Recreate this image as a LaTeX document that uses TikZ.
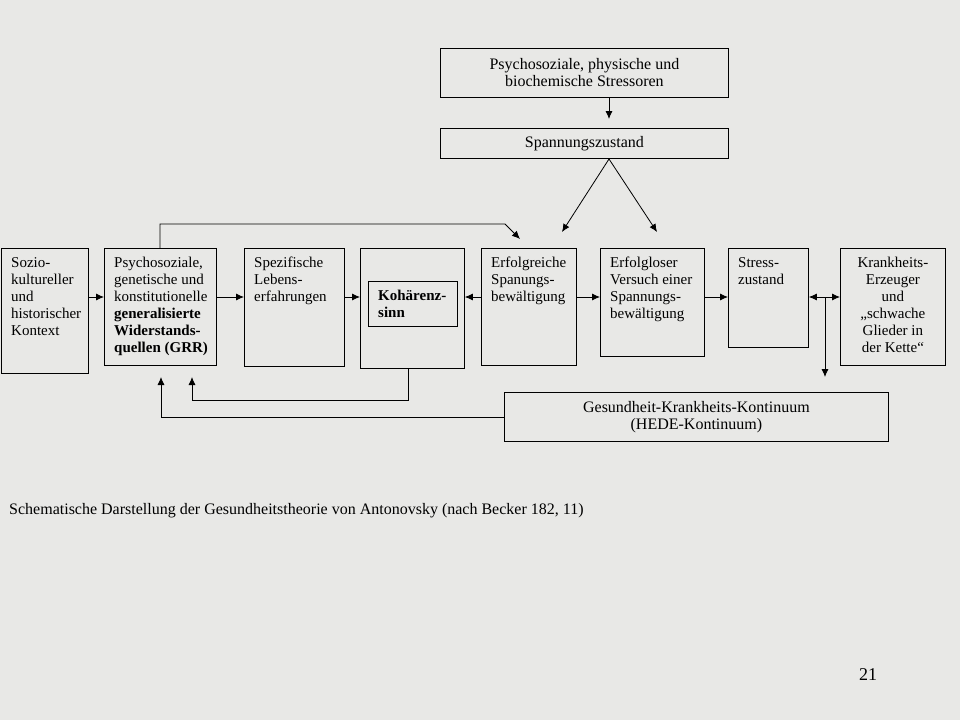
\documentclass[tikz,border=0pt]{standalone}
\usepackage{fontspec}
\setmainfont{Liberation Serif}
\definecolor{slideGray}{RGB}{232, 232, 230}
\usetikzlibrary{arrows.meta, positioning, calc}

\tikzset{
  box/.style={draw, line width=0.8pt, inner sep=0pt, anchor=north west},
  txt/.style={inner sep=0pt, align=left, anchor=north west, font=\fontsize{15}{17}\selectfont},
  ctxt/.style={inner sep=0pt, align=center, font=\fontsize{16}{17}\selectfont},
  arr/.style={line width=0.8pt, -{Latex[length=8pt, width=7pt]}},
  line/.style={line width=0.8pt}
}

\begin{document}
\begin{tikzpicture}[x=1pt, y=-1pt]
    % background
    \fill[slideGray] (0,0) rectangle (960,720);
    \useasboundingbox (0,0) rectangle (960,720);

    % top boxes
    \node[box, minimum width=288pt, minimum height=49pt] (stressoren) at (440,48) {};
    \node[ctxt] at (stressoren.center) {Psychosoziale, physische und\\biochemische Stressoren};
    \node[box, minimum width=288pt, minimum height=30pt] (spannung) at (440,128) {};
    \node[ctxt] at (spannung.center) {Spannungszustand};

    % row of boxes
    \node[box, minimum width=87pt, minimum height=125pt] (sozio) at (1,248) {};
    \node[txt] at ([xshift=10pt, yshift=-9pt]sozio.north west) {Sozio-\\kultureller\\und\\historischer\\Kontext};

    \node[box, minimum width=112pt, minimum height=117pt] (grr) at (104,248) {};
    \node[txt] at ([xshift=10pt, yshift=-9pt]grr.north west) {Psychosoziale,\\genetische und\\konstitutionelle\\\textbf{generalisierte}\\\textbf{Widerstands-}\\\textbf{quellen (GRR)}};

    \node[box, minimum width=100pt, minimum height=118pt] (lebens) at (244,248) {};
    \node[txt] at ([xshift=10pt, yshift=-9pt]lebens.north west) {Spezifische\\Lebens-\\erfahrungen};

    \node[box, minimum width=104pt, minimum height=120pt] (koh) at (360,248) {};
    \node[box, minimum width=89pt, minimum height=45pt] (sinn) at (368,281) {};
    \node[txt] at ([xshift=10pt, yshift=-9pt]sinn.north west) {\textbf{Kohärenz-}\\\textbf{sinn}};

    \node[box, minimum width=95pt, minimum height=117pt] (erfolg) at (481,248) {};
    \node[txt] at ([xshift=10pt, yshift=-9pt]erfolg.north west) {Erfolgreiche\\Spanungs-\\bewältigung};

    \node[box, minimum width=104pt, minimum height=108pt] (versuch) at (600,248) {};
    \node[txt] at ([xshift=10pt, yshift=-9pt]versuch.north west) {Erfolgloser\\Versuch einer\\Spannungs-\\bewältigung};

    \node[box, minimum width=80pt, minimum height=99pt] (stress) at (728,248) {};
    \node[txt] at ([xshift=10pt, yshift=-9pt]stress.north west) {Stress-\\zustand};

    \node[box, minimum width=105pt, minimum height=117pt] (krank) at (840,248) {};
    \node[txt, align=center, anchor=north] at ([yshift=-9pt]krank.north) {Krankheits-\\Erzeuger\\und\\„schwache\\Glieder in\\der Kette“};

    \node[box, minimum width=384pt, minimum height=49pt] (hede) at (504,392) {};
    \node[ctxt] at (hede.center) {Gesundheit-Krankheits-Kontinuum\\(HEDE-Kontinuum)};

    % helper coordinates
    \coordinate (row) at (0,297);
    \coordinate (spitze) at (609,119);
    \coordinate (gipfel) at (609,159);
    \coordinate (links) at (562,232);
    \coordinate (rechts) at (657,232);
    \coordinate (oben) at (160,224);
    \coordinate (obenEnd) at (520,239);
    \coordinate (unten) at (408,400);
    \coordinate (untenEnd) at (192,377);
    \coordinate (hedeEnd) at (161,377);
    \coordinate (gabel) at (825,297);
    \coordinate (gabelEnd) at (825,377);

    % arrows
    \draw[arr] (stressoren.south -| spitze) -- (spitze);
    \draw[arr] (gipfel) -- (links);
    \draw[arr] (gipfel) -- (rechts);
    \draw[arr] (sozio.east |- row) -- (grr.west |- row);
    \draw[arr] (grr.east |- row) -- (lebens.west |- row);
    \draw[arr] (lebens.east |- row) -- (koh.west |- row);
    \draw[arr] (erfolg.west |- row) -- (koh.east |- row);
    \draw[arr] (erfolg.east |- row) -- (versuch.west |- row);
    \draw[arr] (versuch.east |- row) -- (stress.west |- row);
    \draw[line width=0.8pt, {Latex[length=8pt, width=7pt]}-{Latex[length=8pt, width=7pt]}] (stress.east |- row) -- (krank.west |- row);
    \draw[arr] (gabel) -- (gabelEnd);
    \draw[arr] (grr.north -| oben) |- ([xshift=-15pt]obenEnd |- oben) -- (obenEnd);
    \draw[arr] (koh.south -| unten) |- (untenEnd |- unten) -- (untenEnd);
    \draw[arr] (hede.west) -| (hedeEnd);

    % caption
    \node[inner sep=0pt, anchor=west, font=\fontsize{16}{17}\selectfont] (caption) at (9,511) {Schematische Darstellung der Gesundheitstheorie von Antonovsky (nach Becker 182, 11)};
    \node[inner sep=0pt, font=\fontsize{18}{20}\selectfont] (seite) at (868,675) {21};
\end{tikzpicture}
\end{document}
